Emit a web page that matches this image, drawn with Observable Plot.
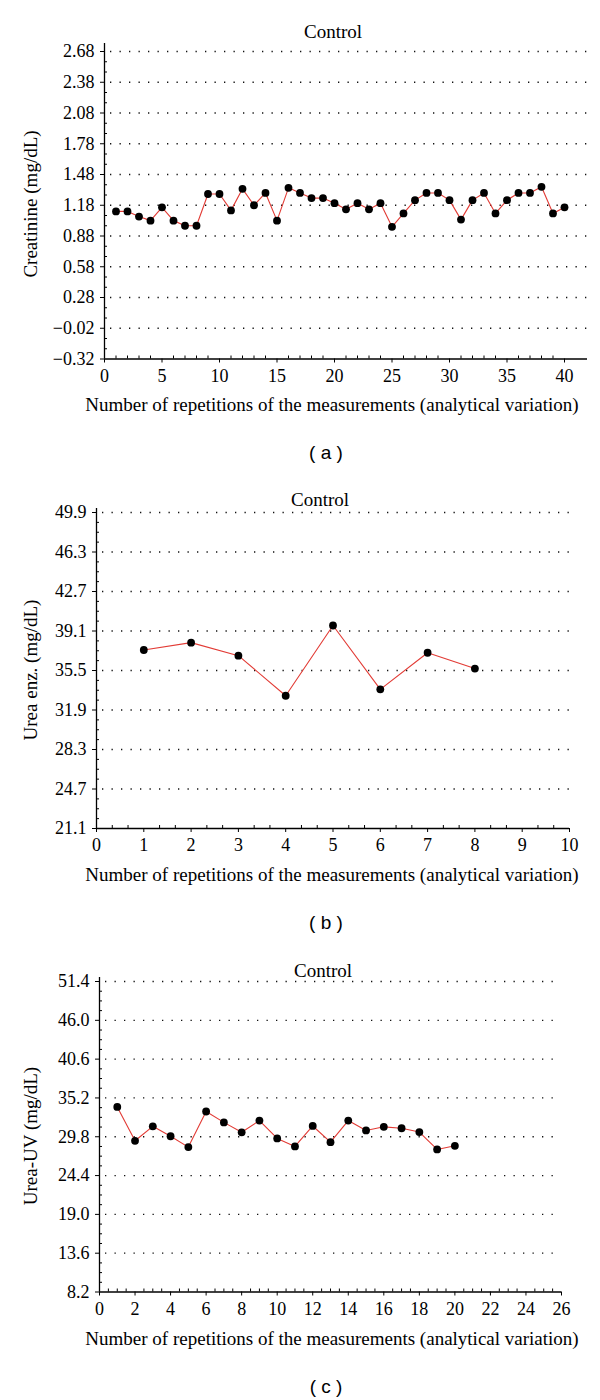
<!DOCTYPE html>
<html><head><meta charset="utf-8">
<script src="https://cdn.jsdelivr.net/npm/d3@7"></script>
<script src="https://cdn.jsdelivr.net/npm/@observablehq/plot@0.6"></script>
<style>
body{margin:0;background:#fff;}
#root{position:relative;width:600px;height:1400px;font-family:"Liberation Serif",serif;color:#000;overflow:hidden;}
.svgwrap{position:absolute;left:0;}
.t{position:absolute;font-size:19px;transform:translate(-50%,-50%);white-space:nowrap;line-height:1;}
.yl{position:absolute;font-size:19px;transform:translate(-50%,-50%) rotate(-90deg);white-space:nowrap;line-height:1;}
.sub{position:absolute;font-family:"Liberation Sans",sans-serif;font-size:19px;transform:translate(-50%,-50%);white-space:pre;line-height:1;}
svg text{font-family:"Liberation Serif",serif;}
</style></head><body><div id="root"></div>
<script>
// ---- data ----
const panelTitle = "Control";
const xAxisLabel = "Number of repetitions of the measurements (analytical variation)";

const creatinineLabel = "Creatinine (mg/dL)";
const creatinine = [1.12,1.12,1.07,1.03,1.16,1.03,0.98,0.98,1.29,1.29,1.13,1.34,1.18,1.30,1.03,1.35,1.30,1.25,1.25,1.20,1.14,1.20,1.14,1.20,0.97,1.10,1.23,1.30,1.30,1.23,1.04,1.23,1.30,1.10,1.23,1.30,1.30,1.36,1.10,1.16];
const creatinineYTicks = [-0.32,-0.02,0.28,0.58,0.88,1.18,1.48,1.78,2.08,2.38,2.68];
const creatinineXTicks = [0,5,10,15,20,25,30,35,40];

const ureaEnzLabel = "Urea enz. (mg/dL)";
const ureaEnz = [37.37,38.04,36.85,33.20,39.60,33.78,37.12,35.68];
const ureaEnzYTicks = [21.1,24.7,28.3,31.9,35.5,39.1,42.7,46.3,49.9];
const ureaEnzXTicks = [0,1,2,3,4,5,6,7,8,9,10];

const ureaUVLabel = "Urea-UV (mg/dL)";
const ureaUV = [33.95,29.24,31.25,29.87,28.36,33.31,31.80,30.42,32.05,29.57,28.45,31.30,29.05,32.05,30.68,31.18,30.98,30.45,28.03,28.54];
const ureaUVYTicks = [8.2,13.6,19.0,24.4,29.8,35.2,40.6,46.0,51.4];
const ureaUVXTicks = [0,2,4,6,8,10,12,14,16,18,20,22,24,26];

const root = document.getElementById("root");

function minors(ticks, per) {
  const out = [];
  for (let i = 0; i < ticks.length - 1; i++) {
    for (let k = 1; k <= per; k++) out.push(ticks[i] + (ticks[i+1]-ticks[i]) * k / (per + 1));
  }
  return out;
}

function addText(cls, text, x, y) {
  const d = document.createElement("div");
  d.className = cls; d.textContent = text;
  d.style.left = x + "px"; d.style.top = y + "px";
  root.appendChild(d);
}

function panel(cfg) {
  const data = cfg.values.map((v, i) => ({x: i + 1, y: v}));
  const mt = 20, mb = 34;
  const height = cfg.plotBottom - cfg.plotTop + mt + mb;
  const innerW = cfg.right - cfg.left;
  const innerH = cfg.plotBottom - cfg.plotTop;
  const yT = cfg.yTicks;
  const chart = Plot.plot({
    width: 600, height,
    marginTop: mt, marginBottom: mb, marginLeft: cfg.left, marginRight: 600 - cfg.right,
    style: {fontFamily: "'Liberation Serif', serif", fontSize: "18px", color: "#000", background: "transparent", overflow: "visible"},
    x: {domain: [0, cfg.xMax]},
    y: {domain: [yT[0], yT[yT.length - 1]]},
    marks: [
      Plot.gridY(yT.slice(1), {stroke: "#111", strokeOpacity: 1, strokeWidth: 1.3, strokeDasharray: "1.3 8.2", strokeDashoffset: -6}),
      Plot.ruleY(minors(yT, cfg.yMinor), {stroke: "#000", strokeWidth: 1, insetRight: innerW - 3}),
      Plot.ruleX(minors(cfg.xTicks, cfg.xMinor), {stroke: "#000", strokeWidth: 1, insetTop: innerH - 3}),
      Plot.axisY(yT, {tickSize: 4, tickPadding: 6, tickFormat: d3.format(cfg.yFmt), label: null, stroke: "#000"}),
      Plot.axisX(cfg.xTicks, {tickSize: 4, tickPadding: 6, tickFormat: d3.format("d"), label: null, stroke: "#000"}),
      Plot.ruleX([0], {stroke: "#000", strokeWidth: 1.3, insetTop: -cfg.axisExt}),
      Plot.ruleY([yT[0]], {stroke: "#000", strokeWidth: 1.3}),
      Plot.line(data, {x: "x", y: "y", stroke: "#e23b35", strokeWidth: 1.1}),
      Plot.dot(data, {x: "x", y: "y", r: 3.9, fill: "#000", stroke: "none"})
    ]
  });
  const wrap = document.createElement("div");
  wrap.className = "svgwrap";
  wrap.style.top = (cfg.plotTop - mt) + "px";
  wrap.appendChild(chart);
  root.appendChild(wrap);
  addText("t", panelTitle, cfg.titleX, cfg.titleY);
  addText("t", xAxisLabel, 332, cfg.plotBottom + 46);
  addText("yl", cfg.yLabel, 30, (cfg.plotTop + cfg.plotBottom) / 2);
  addText("sub", cfg.sub, 326, cfg.plotBottom + 94);
}

panel({values: creatinine, yTicks: creatinineYTicks, xTicks: creatinineXTicks, yMinor: 2, xMinor: 4, xMax: 42,
  plotTop: 50.5, plotBottom: 358, left: 104, right: 587, yFmt: ".2f", yLabel: creatinineLabel,
  titleX: 333, titleY: 31, sub: "( a )", axisExt: 8});
panel({values: ureaEnz, yTicks: ureaEnzYTicks, xTicks: ureaEnzXTicks, yMinor: 3, xMinor: 2, xMax: 10,
  plotTop: 512, plotBottom: 828, left: 96, right: 569, yFmt: ".1f", yLabel: ureaEnzLabel,
  titleX: 320, titleY: 498.5, sub: "( b )", axisExt: 4});
panel({values: ureaUV, yTicks: ureaUVYTicks, xTicks: ureaUVXTicks, yMinor: 3, xMinor: 3, xMax: 26,
  plotTop: 981, plotBottom: 1291.5, left: 99, right: 561, yFmt: ".1f", yLabel: ureaUVLabel,
  titleX: 323, titleY: 970, sub: "( c )", axisExt: 4});
</script></body></html>
